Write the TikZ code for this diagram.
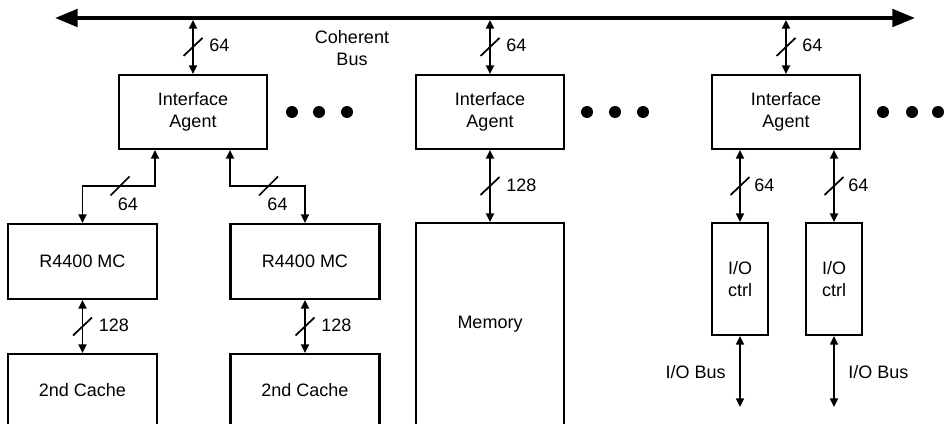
\documentclass[tikz,border=0pt]{standalone}
\usepackage{fontspec}
\setmainfont{Liberation Sans}
\usetikzlibrary{arrows.meta,calc}
\begin{document}
\begin{tikzpicture}[x=0.75pt,y=-0.75pt,
  every node/.style={font=\fontsize{13.5}{17}\selectfont},
  box/.style={draw, line width=1.6pt, inner sep=0pt},
  iabox/.style={box, minimum width=111pt, minimum height=55.5pt, align=center},
  mcbox/.style={box, minimum width=111.75pt, minimum height=56.25pt},
  cachebox/.style={box, minimum width=111.75pt, minimum height=64.5pt},
  membox/.style={box, minimum width=111pt, minimum height=162.75pt},
  iobox/.style={box, minimum width=42pt, minimum height=84pt, align=center},
  conn/.style={line width=1.3pt, {Triangle[length=6.5pt,width=6pt]}-{Triangle[length=6.5pt,width=6pt]}},
  slashln/.style={line width=1.3pt},
  lbl/.style={inner sep=0pt},
  busline/.style={line width=3pt, {Triangle[length=17pt,width=13pt]}-{Triangle[length=17pt,width=13pt]}},
  dot/.style={fill=black}
]
\useasboundingbox (0,0) rectangle (945,424);
\clip (0,0) rectangle (945,424);

% coherent bus
\coordinate (busL) at (55,18);
\coordinate (busR) at (915,18);
\draw[busline] (busL) -- (busR);
\node[lbl, align=center] (cbus) at (352,48) {Coherent\\Bus};

% interface agents
\node[iabox] (ia1) at (193,112) {Interface\\Agent};
\node[iabox] (ia2) at (490,112) {Interface\\Agent};
\node[iabox] (ia3) at (786,112) {Interface\\Agent};

% dots
\foreach \x in {292,319,347,587,615,643,883,912,938}
  \fill[dot] (\x,112) circle (6);

% bus taps
\coordinate (t1) at (193,20);
\coordinate (t2) at (490,20);
\coordinate (t3) at (786,20);
\foreach \i in {1,2,3}{
  \draw[conn] (t\i) -- (ia\i.north);
  \draw[slashln] ($(t\i)!0.5!(ia\i.north)$) +(-9.5,9) -- +(9.5,-9);
  \node[lbl, anchor=west] (tl\i) at ($(t\i)!0.5!(ia\i.north)+(16,-2)$) {64};
}

% processors
\node[mcbox] (mc1) at (82.5,261.5) {R4400 MC};
\node[mcbox] (mc2) at (305,261.5) {R4400 MC};
\node[cachebox] (cache1) at (82.5,397) {};
\node[cachebox] (cache2) at (305,397) {};
\node[lbl] (c1t) at (82.5,390) {2nd Cache};
\node[lbl] (c2t) at (305,390) {2nd Cache};

\coordinate (j1) at (155,186);
\coordinate (j2) at (230,186);
\draw[conn] (ia1.south -| j1) -- (j1) -| (mc1.north);
\draw[conn] (ia1.south -| j2) -- (j2) -| (mc2.north);
\draw[slashln] (120,186) +(-9.5,9.5) -- +(9.5,-9.5);
\draw[slashln] (268.5,186) +(-9.5,9.5) -- +(9.5,-9.5);
\node[lbl] (jl1) at (128,204) {64};
\node[lbl] (jl2) at (277.5,204) {64};

\draw[conn] (mc1.south) -- (cache1.north);
\draw[slashln] ($(mc1.south)!0.5!(cache1.north)$) +(-9.5,9) -- +(9.5,-9);
\node[lbl, anchor=west] (ml1) at ($(mc1.south)!0.5!(cache1.north)+(16,-1)$) {128};
\draw[conn] (mc2.south) -- (cache2.north);
\draw[slashln] ($(mc2.south)!0.5!(cache2.north)$) +(-9.5,9) -- +(9.5,-9);
\node[lbl, anchor=west] (ml2) at ($(mc2.south)!0.5!(cache2.north)+(16,-1)$) {128};

% memory
\node[membox] (mem) at (490,331.5) {};
\node[lbl] (memt) at (490,324) {Memory};
\draw[conn] (ia2.south) -- (mem.north);
\draw[slashln] ($(ia2.south)!0.5!(mem.north)$) +(-9.5,9) -- +(9.5,-9);
\node[lbl, anchor=west] (meml) at ($(ia2.south)!0.5!(mem.north)+(16,-1)$) {128};

% I/O
\node[iobox] (io1) at (740,279) {I/O\\ctrl};
\node[iobox] (io2) at (834,279) {I/O\\ctrl};
\draw[conn] (ia3.south -| io1.north) -- (io1.north);
\draw[slashln] ($(ia3.south -| io1.north)!0.5!(io1.north)$) +(-9.5,9) -- +(9.5,-9);
\node[lbl, anchor=west] (iol1) at ($(ia3.south -| io1.north)!0.5!(io1.north)+(14,-1)$) {64};
\draw[conn] (ia3.south -| io2.north) -- (io2.north);
\draw[slashln] ($(ia3.south -| io2.north)!0.5!(io2.north)$) +(-9.5,9) -- +(9.5,-9);
\node[lbl, anchor=west] (iol2) at ($(ia3.south -| io2.north)!0.5!(io2.north)+(14,-1)$) {64};

\coordinate (iob1) at (740,407);
\coordinate (iob2) at (834,407);
\draw[conn] (io1.south) -- (iob1);
\draw[conn] (io2.south) -- (iob2);
\node[lbl, anchor=east] (ibl1) at (726,372) {I/O Bus};
\node[lbl, anchor=west] (ibl2) at (848,372) {I/O Bus};
\end{tikzpicture}
\end{document}
